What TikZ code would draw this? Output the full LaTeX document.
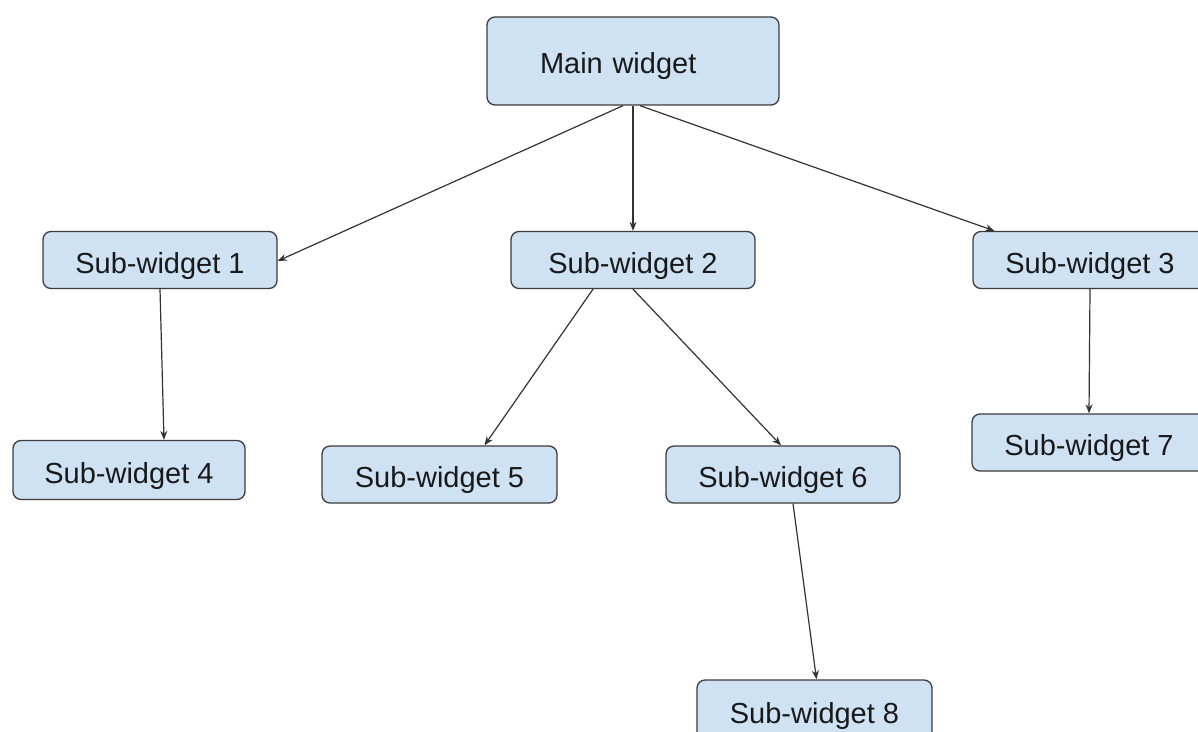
\documentclass[tikz,border=0pt]{standalone}
\usepackage{fontspec}
\setmainfont{Liberation Sans}
\usetikzlibrary{arrows.meta}
\definecolor{boxfill}{HTML}{CFE2F3}
\definecolor{boxline}{HTML}{3C3C3C}
\definecolor{linkline}{HTML}{333333}
\tikzset{
  widget/.style={draw=boxline, fill=boxfill, line width=1.3pt, rounded corners=8pt,
    inner sep=0pt, minimum height=57pt, text height=26pt, text depth=0pt,
    font=\fontsize{29}{34}\selectfont, text=black!90},
  link/.style={draw=linkline, line width=1.2pt, -{Stealth[length=9pt,width=7pt]}}
}
\begin{document}
\begin{tikzpicture}[x=1pt, y=-1pt]
  \path[use as bounding box, clip] (0,0) rectangle (1198,731);
  \fill[white] (0,0) rectangle (1198,731);

  % top-level widget
  \node[widget, minimum height=88pt, text height=24pt, text width=186pt, align=left, inner xsep=53pt]
    (main) at (633,61) {Main widget};

  % first level
  \node[widget, minimum width=234pt] (sw1) at (160,260) {Sub-widget 1};
  \node[widget, minimum width=244pt] (sw2) at (633,260) {Sub-widget 2};
  \node[widget, minimum width=234pt] (sw3) at (1090,260) {Sub-widget 3};

  % second level
  \node[widget, minimum width=232pt, minimum height=59pt] (sw4) at (129,470) {Sub-widget 4};
  \node[widget, minimum width=235pt] (sw5) at (439.5,474.5) {Sub-widget 5};
  \node[widget, minimum width=234pt] (sw6) at (783,474.5) {Sub-widget 6};
  \node[widget, minimum width=234pt] (sw7) at (1089,442.5) {Sub-widget 7};

  % third level
  \node[widget, minimum width=235pt, minimum height=60pt] (sw8) at (814.5,710) {Sub-widget 8};

  % connectors
  \draw[link] ([xshift=-10pt]main.south) -- ([yshift=-1pt]sw1.east);
  \draw[link] (main.south) -- (sw2.north);
  \draw[link] ([xshift=7pt]main.south) -- ([xshift=22pt]sw3.north west);
  \draw[link] (sw1.south) -- ([xshift=35pt]sw4.north);
  \draw[link] ([xshift=-40pt]sw2.south) -- ([xshift=45pt]sw5.north);
  \draw[link] (sw2.south) -- ([xshift=-2pt]sw6.north);
  \draw[link] (sw3.south) -- (sw7.north);
  \draw[link] ([xshift=10pt]sw6.south) -- ([xshift=2pt]sw8.north);
\end{tikzpicture}
\end{document}
